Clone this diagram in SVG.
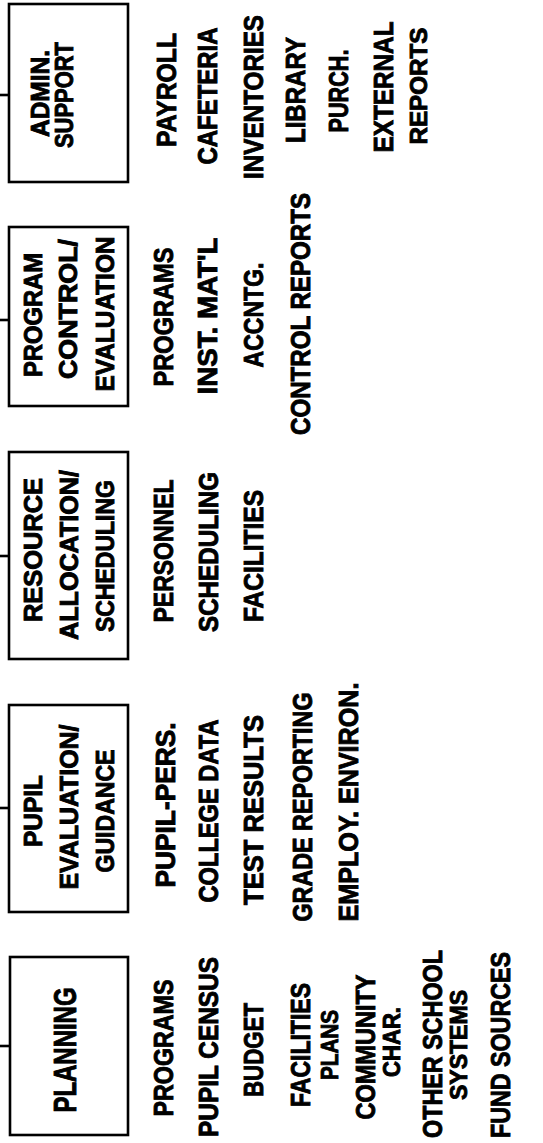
<svg xmlns="http://www.w3.org/2000/svg" width="543" height="1143" viewBox="0 0 543 1143">
<style>
.box{fill:#fff;stroke:#000;stroke-width:2.6}
.con{stroke:#000;stroke-width:2.6;fill:none}
text{font-family:"Liberation Sans","Arial",sans-serif;font-weight:bold;fill:#000;stroke:#000;stroke-width:0.9;text-anchor:middle}
.b{font-size:25px}
.p{font-size:31px}
.i{font-size:28px}
.s{font-size:23px}
</style>
<rect width="543" height="1143" fill="#fff"/>
<g id="connectors">
<line class="con" x1="0" y1="95" x2="9" y2="95"/>
<line class="con" x1="0" y1="320" x2="9" y2="320"/>
<line class="con" x1="0" y1="556" x2="9" y2="556"/>
<line class="con" x1="0" y1="808" x2="9" y2="808"/>
<line class="con" x1="0" y1="1046" x2="10" y2="1046"/>
</g>
<g id="admin-support">
<rect class="box" x="9" y="4" width="119" height="178"/>
<text class="b" transform="translate(49,93.5) rotate(-90)" textLength="87" lengthAdjust="spacingAndGlyphs">ADMIN.</text>
<text class="b" transform="translate(73,95) rotate(-90)" textLength="106" lengthAdjust="spacingAndGlyphs">SUPPORT</text>
</g>
<g id="program-control">
<rect class="box" x="9" y="227" width="119" height="179"/>
<text class="b" transform="translate(42,315) rotate(-90)" textLength="124" lengthAdjust="spacingAndGlyphs">PROGRAM</text>
<text class="b" transform="translate(77,309) rotate(-90)" textLength="140" lengthAdjust="spacingAndGlyphs">CONTROL/</text>
<text class="b" transform="translate(114,314) rotate(-90)" textLength="155" lengthAdjust="spacingAndGlyphs">EVALUATION</text>
</g>
<g id="resource-allocation">
<rect class="box" x="9" y="452" width="119" height="207"/>
<text class="b" transform="translate(42,550) rotate(-90)" textLength="144" lengthAdjust="spacingAndGlyphs">RESOURCE</text>
<text class="b" transform="translate(78,555) rotate(-90)" textLength="170" lengthAdjust="spacingAndGlyphs">ALLOCATION/</text>
<text class="b" transform="translate(114,556) rotate(-90)" textLength="152" lengthAdjust="spacingAndGlyphs">SCHEDULING</text>
</g>
<g id="pupil-evaluation">
<rect class="box" x="9" y="705" width="119" height="207"/>
<text class="b" transform="translate(42,811) rotate(-90)" textLength="72" lengthAdjust="spacingAndGlyphs">PUPIL</text>
<text class="b" transform="translate(78,807) rotate(-90)" textLength="165" lengthAdjust="spacingAndGlyphs">EVALUATION/</text>
<text class="b" transform="translate(114,811) rotate(-90)" textLength="123" lengthAdjust="spacingAndGlyphs">GUIDANCE</text>
</g>
<g id="planning">
<rect class="box" x="10" y="957" width="118" height="178"/>
<text class="p" transform="translate(76,1050) rotate(-90)" textLength="125" lengthAdjust="spacingAndGlyphs">PLANNING</text>
</g>
<g id="admin-items">
<text class="i" transform="translate(176,90) rotate(-90)" textLength="114" lengthAdjust="spacingAndGlyphs">PAYROLL</text>
<text class="i" transform="translate(217,96) rotate(-90)" textLength="137" lengthAdjust="spacingAndGlyphs">CAFETERIA</text>
<text class="i" transform="translate(263,97) rotate(-90)" textLength="164" lengthAdjust="spacingAndGlyphs">INVENTORIES</text>
<text class="i" transform="translate(305,90) rotate(-90)" textLength="106" lengthAdjust="spacingAndGlyphs">LIBRARY</text>
<text class="i" transform="translate(348,91) rotate(-90)" textLength="83" lengthAdjust="spacingAndGlyphs">PURCH.</text>
<text class="i" transform="translate(393,87) rotate(-90)" textLength="131" lengthAdjust="spacingAndGlyphs">EXTERNAL</text>
<text class="s" transform="translate(427,86) rotate(-90)" textLength="117" lengthAdjust="spacingAndGlyphs">REPORTS</text>
</g>
<g id="program-items">
<text class="i" transform="translate(173,317) rotate(-90)" textLength="139" lengthAdjust="spacingAndGlyphs">PROGRAMS</text>
<text class="i" transform="translate(217,316) rotate(-90)" textLength="157" lengthAdjust="spacingAndGlyphs">INST. MAT'L</text>
<text class="i" transform="translate(263,315) rotate(-90)" textLength="105" lengthAdjust="spacingAndGlyphs">ACCNTG.</text>
<text class="i" transform="translate(310,314) rotate(-90)" textLength="242" lengthAdjust="spacingAndGlyphs">CONTROL REPORTS</text>
</g>
<g id="resource-items">
<text class="i" transform="translate(173,551) rotate(-90)" textLength="143" lengthAdjust="spacingAndGlyphs">PERSONNEL</text>
<text class="i" transform="translate(218,552) rotate(-90)" textLength="160" lengthAdjust="spacingAndGlyphs">SCHEDULING</text>
<text class="i" transform="translate(263,556) rotate(-90)" textLength="132" lengthAdjust="spacingAndGlyphs">FACILITIES</text>
</g>
<g id="pupil-items">
<text class="i" transform="translate(175,805) rotate(-90)" textLength="165" lengthAdjust="spacingAndGlyphs">PUPIL-PERS.</text>
<text class="i" transform="translate(218,811) rotate(-90)" textLength="183" lengthAdjust="spacingAndGlyphs">COLLEGE DATA</text>
<text class="i" transform="translate(263,810) rotate(-90)" textLength="190" lengthAdjust="spacingAndGlyphs">TEST RESULTS</text>
<text class="i" transform="translate(312,807) rotate(-90)" textLength="229" lengthAdjust="spacingAndGlyphs">GRADE REPORTING</text>
<text class="i" transform="translate(358,802) rotate(-90)" textLength="239" lengthAdjust="spacingAndGlyphs">EMPLOY. ENVIRON.</text>
</g>
<g id="planning-items">
<text class="i" transform="translate(173,1048) rotate(-90)" textLength="137" lengthAdjust="spacingAndGlyphs">PROGRAMS</text>
<text class="i" transform="translate(218,1047) rotate(-90)" textLength="180" lengthAdjust="spacingAndGlyphs">PUPIL CENSUS</text>
<text class="i" transform="translate(263,1050) rotate(-90)" textLength="94" lengthAdjust="spacingAndGlyphs">BUDGET</text>
<text class="i" transform="translate(310,1045) rotate(-90)" textLength="124" lengthAdjust="spacingAndGlyphs">FACILITIES</text>
<text class="s" transform="translate(338,1045) rotate(-90)" textLength="70" lengthAdjust="spacingAndGlyphs">PLANS</text>
<text class="i" transform="translate(375,1047) rotate(-90)" textLength="145" lengthAdjust="spacingAndGlyphs">COMMUNITY</text>
<text class="s" transform="translate(400,1042) rotate(-90)" textLength="70" lengthAdjust="spacingAndGlyphs">CHAR.</text>
<text class="i" transform="translate(442,1044) rotate(-90)" textLength="188" lengthAdjust="spacingAndGlyphs">OTHER SCHOOL</text>
<text class="s" transform="translate(467,1045) rotate(-90)" textLength="110" lengthAdjust="spacingAndGlyphs">SYSTEMS</text>
<text class="i" transform="translate(510,1045) rotate(-90)" textLength="186" lengthAdjust="spacingAndGlyphs">FUND SOURCES</text>
</g>
</svg>
